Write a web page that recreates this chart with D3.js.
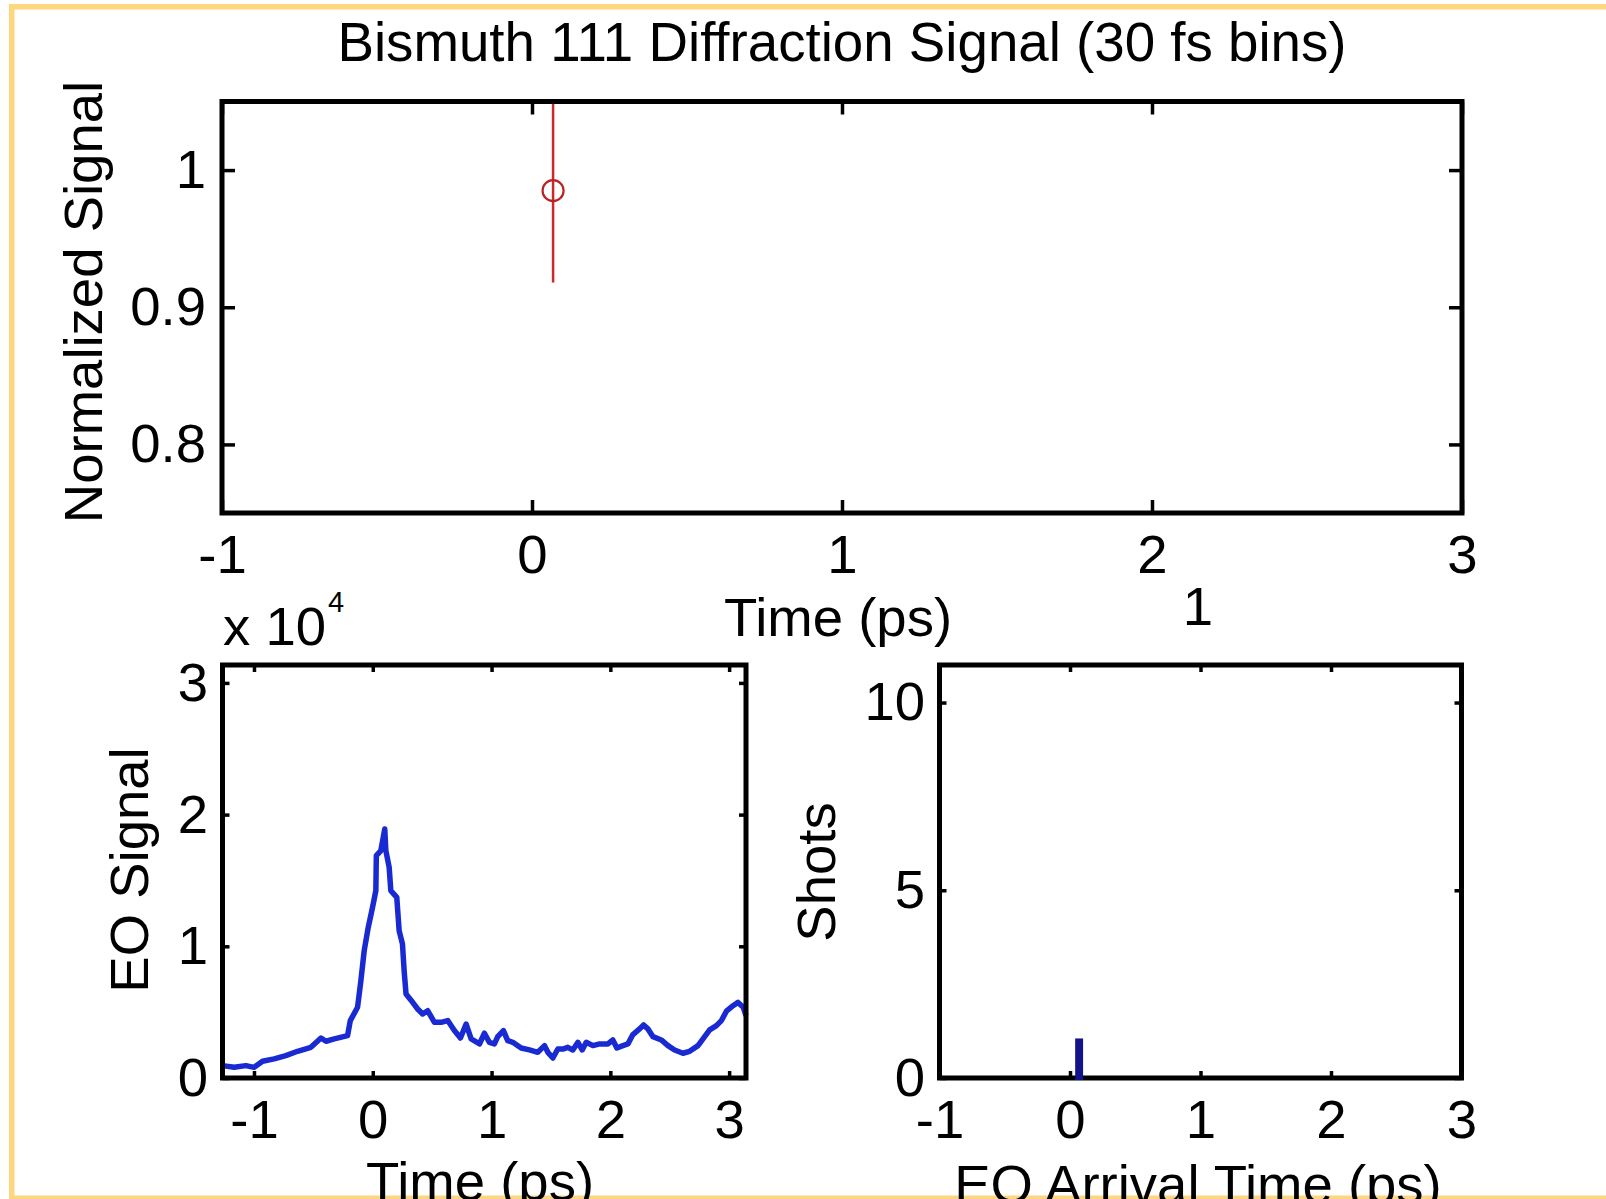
<!DOCTYPE html>
<html>
<head>
<meta charset="utf-8">
<script src="https://cdn.jsdelivr.net/npm/d3@7"></script>
<style>
  html, body { margin: 0; padding: 0; background: #fff; }
  svg { display: block; }
  text { font-family: "Liberation Sans", Arial, Helvetica, sans-serif; fill: #000; }
</style>
</head>
<body>
<svg id="fig" width="1606" height="1199"></svg>
<script>
// ---- Diffraction signal (one 30 fs bin) ----
const diffTime = [0.068];
const diffSignal = [0.985];
const diffError = [0.067];

// ---- EO signal trace ----
const eoTime = [-1.265, -1.167, -1.068, -0.999, -0.928, -0.830, -0.732, -0.633, -0.521, -0.436,
  -0.394, -0.324, -0.212, -0.189, -0.128, -0.100, -0.072, -0.038, -0.002, 0.026,
  0.030, 0.068, 0.101, 0.110, 0.138, 0.152, 0.202, 0.222, 0.250, 0.264,
  0.280, 0.336, 0.378, 0.420, 0.462, 0.519, 0.575, 0.631, 0.687, 0.738,
  0.786, 0.828, 0.899, 0.940, 0.982, 1.024, 1.052, 1.100, 1.136, 1.179,
  1.249, 1.319, 1.389, 1.446, 1.474, 1.516, 1.558, 1.600, 1.642, 1.684,
  1.727, 1.763, 1.797, 1.853, 1.910, 1.980, 2.021, 2.055, 2.106, 2.148,
  2.190, 2.246, 2.280, 2.316, 2.359, 2.429, 2.485, 2.541, 2.611, 2.667,
  2.738, 2.794, 2.836, 2.893, 2.935, 2.977, 3.033, 3.075, 3.119, 3.142];
const eoSignal = [940, 810, 940, 810, 1270, 1450, 1700, 2030, 2330, 3040,
  2790, 2970, 3220, 4360, 5370, 7400, 9670, 11440, 12960, 14230,
  16890, 17270, 18910, 17270, 16000, 14230, 13720, 11190, 10180, 8150,
  6380, 5750, 5240, 4860, 5110, 4230, 4230, 4360, 3600, 3040,
  4100, 2970, 2600, 3400, 2710, 2590, 3140, 3600, 2840, 2710,
  2280, 2130, 1950, 2460, 1950, 1520, 2200, 2200, 2330, 2130,
  2710, 2130, 2710, 2460, 2590, 2590, 2890, 2280, 2460, 2590,
  3300, 3730, 4030, 3730, 3140, 2890, 2460, 2130, 1880, 2030,
  2460, 3140, 3650, 3980, 4360, 5070, 5490, 5740, 5370, 4740];

// ---- EO arrival time histogram ----
const histEdges = [-1, 0.055, 0.085, 3];
const histCounts = [0, 1, 0];

// ---- tick values ----
const topXTicks = [-1, 0, 1, 2, 3];
const topYTicks = [0.8, 0.9, 1];
const eoXTicks = [-1, 0, 1, 2, 3];
const eoYTicks = [0, 10000, 20000, 30000];
const histXTicks = [-1, 0, 1, 2, 3];
const histYTicks = [0, 5, 10];

const svg = d3.select("#fig");
const FS = 54.5;

// integer labels with a plain hyphen for negatives
const intFmt = d => String(Math.round(d));

// frame border
const borderColor = "#fdd67f";
svg.append("rect").attr("x", 9).attr("y", 4).attr("width", 1597).attr("height", 5.5).attr("fill", borderColor);
svg.append("rect").attr("x", 9).attr("y", 4).attr("width", 5.5).attr("height", 1195).attr("fill", borderColor);
svg.append("rect").attr("x", 9).attr("y", 1195.5).attr("width", 1597).attr("height", 4).attr("fill", borderColor);

// Draws a boxed axes with inward ticks on all four sides
function boxAxes(g, x, y, xTicks, yTicks, opts) {
  const [x0, x1] = x.range();
  const [y0, y1] = y.range(); // y0 bottom, y1 top
  const tl = opts.tickLen;
  const styleTicks = sel => {
    sel.select(".domain").remove();
    sel.selectAll(".tick line").attr("stroke", "#000").attr("stroke-width", 3.5);
    sel.selectAll(".tick text").attr("font-size", FS).attr("fill", "#000")
      .style("font-family", '"Liberation Sans", Arial, sans-serif');
  };
  g.append("g").attr("transform", `translate(0,${y0})`)
    .call(d3.axisBottom(x).tickValues(xTicks).tickSizeInner(-tl).tickSizeOuter(0)
      .tickPadding(opts.xPad).tickFormat(intFmt))
    .call(styleTicks);
  g.append("g").attr("transform", `translate(0,${y1})`)
    .call(d3.axisTop(x).tickValues(xTicks).tickSizeInner(-tl).tickSizeOuter(0).tickFormat(""))
    .call(styleTicks);
  g.append("g").attr("transform", `translate(${x0},0)`)
    .call(d3.axisLeft(y).tickValues(yTicks).tickSizeInner(-tl).tickSizeOuter(0)
      .tickPadding(opts.yPad).tickFormat(opts.yFmt))
    .call(styleTicks);
  g.append("g").attr("transform", `translate(${x1},0)`)
    .call(d3.axisRight(y).tickValues(yTicks).tickSizeInner(-tl).tickSizeOuter(0).tickFormat(""))
    .call(styleTicks);
  g.append("rect").attr("x", x0).attr("y", y1).attr("width", x1 - x0).attr("height", y0 - y1)
    .attr("fill", "none").attr("stroke", "#000").attr("stroke-width", 5);
}

// ================= top panel =================
const xTop = d3.scaleLinear().domain([-1, 3]).range([222, 1462]);
const yTop = d3.scaleLinear().domain([0.75, 1.05]).range([513, 101.5]);
const gTop = svg.append("g");

svg.append("defs").append("clipPath").attr("id", "clipTop")
  .append("rect").attr("x", 222).attr("y", 101.5).attr("width", 1240).attr("height", 411.5);

const errG = gTop.append("g").attr("clip-path", "url(#clipTop)");
errG.selectAll("line.err").data(diffTime).join("line").attr("class", "err")
  .attr("x1", d => xTop(d)).attr("x2", d => xTop(d))
  .attr("y1", (d, i) => yTop(diffSignal[i] + diffError[i]))
  .attr("y2", (d, i) => yTop(diffSignal[i] - diffError[i]))
  .attr("stroke", "#cc2a2a").attr("stroke-width", 2.5);
errG.selectAll("circle").data(diffTime).join("circle")
  .attr("cx", d => xTop(d)).attr("cy", (d, i) => yTop(diffSignal[i]))
  .attr("r", 10.5).attr("fill", "none").attr("stroke", "#b82424").attr("stroke-width", 2.2);

boxAxes(gTop, xTop, yTop, topXTicks, topYTicks, {
  tickLen: 13, xPad: 21, yPad: 16, yFmt: d => d === 1 ? "1" : d3.format(".1f")(d)
});

svg.append("text").attr("x", 842).attr("y", 61).attr("text-anchor", "middle")
  .attr("font-size", 54.7).text("Bismuth 111 Diffraction Signal (30 fs bins)");
svg.append("text").attr("x", 838).attr("y", 636).attr("text-anchor", "middle")
  .attr("font-size", FS).text("Time (ps)");
svg.append("text").attr("transform", "translate(102,302) rotate(-90)").attr("text-anchor", "middle")
  .attr("font-size", FS).text("Normalized Signal");

// ================= bottom-left panel =================
const xEO = d3.scaleLinear().domain([-1.265, 3.142]).range([222.5, 746]);
const yEO = d3.scaleLinear().domain([0, 31360]).range([1078, 665]);
const gEO = svg.append("g");

const eoLine = d3.line().x(d => xEO(d[0])).y(d => yEO(d[1]));
gEO.append("path").datum(eoTime.map((t, i) => [t, eoSignal[i]]))
  .attr("d", eoLine).attr("fill", "none").attr("stroke", "#1a2ad2")
  .attr("stroke-width", 5.5).attr("stroke-linejoin", "round");

boxAxes(gEO, xEO, yEO, eoXTicks, eoYTicks, {
  tickLen: 7, xPad: 21, yPad: 14.5, yFmt: d => String(Math.round(d / 10000))
});

const expo = svg.append("text").attr("x", 223).attr("y", 645).attr("font-size", FS);
expo.append("tspan").text("x 10");
expo.append("tspan").attr("x", 328).attr("y", 612).attr("font-size", 29).text("4");

svg.append("text").attr("transform", "translate(148,870) rotate(-90)").attr("text-anchor", "middle")
  .attr("font-size", FS).text("EO Signal");
svg.append("text").attr("x", 480).attr("y", 1200).attr("text-anchor", "middle")
  .attr("font-size", FS).text("Time (ps)");

// ================= bottom-right panel =================
const xH = d3.scaleLinear().domain([-1, 3]).range([939.5, 1461.5]);
const yH = d3.scaleLinear().domain([0, 11]).range([1078, 665]);
const gH = svg.append("g");

boxAxes(gH, xH, yH, histXTicks, histYTicks, {
  tickLen: 7, xPad: 21, yPad: 14.5, yFmt: intFmt
});

gH.selectAll("rect.bin").data(histCounts).join("rect").attr("class", "bin")
  .attr("x", (d, i) => xH(histEdges[i]))
  .attr("width", (d, i) => xH(histEdges[i + 1]) - xH(histEdges[i]))
  .attr("y", d => yH(d)).attr("height", d => yH(0) - yH(d))
  .attr("fill", "#12128a").attr("stroke", "#12128a").attr("stroke-width", 4);

svg.append("text").attr("x", 1198).attr("y", 625).attr("text-anchor", "middle")
  .attr("font-size", FS).text("1");
svg.append("text").attr("transform", "translate(835,872) rotate(-90)").attr("text-anchor", "middle")
  .attr("font-size", FS).text("Shots");
svg.append("text").attr("x", 1198).attr("y", 1203).attr("text-anchor", "middle")
  .attr("font-size", FS).text("EO Arrival Time (ps)");
</script>
</body>
</html>
